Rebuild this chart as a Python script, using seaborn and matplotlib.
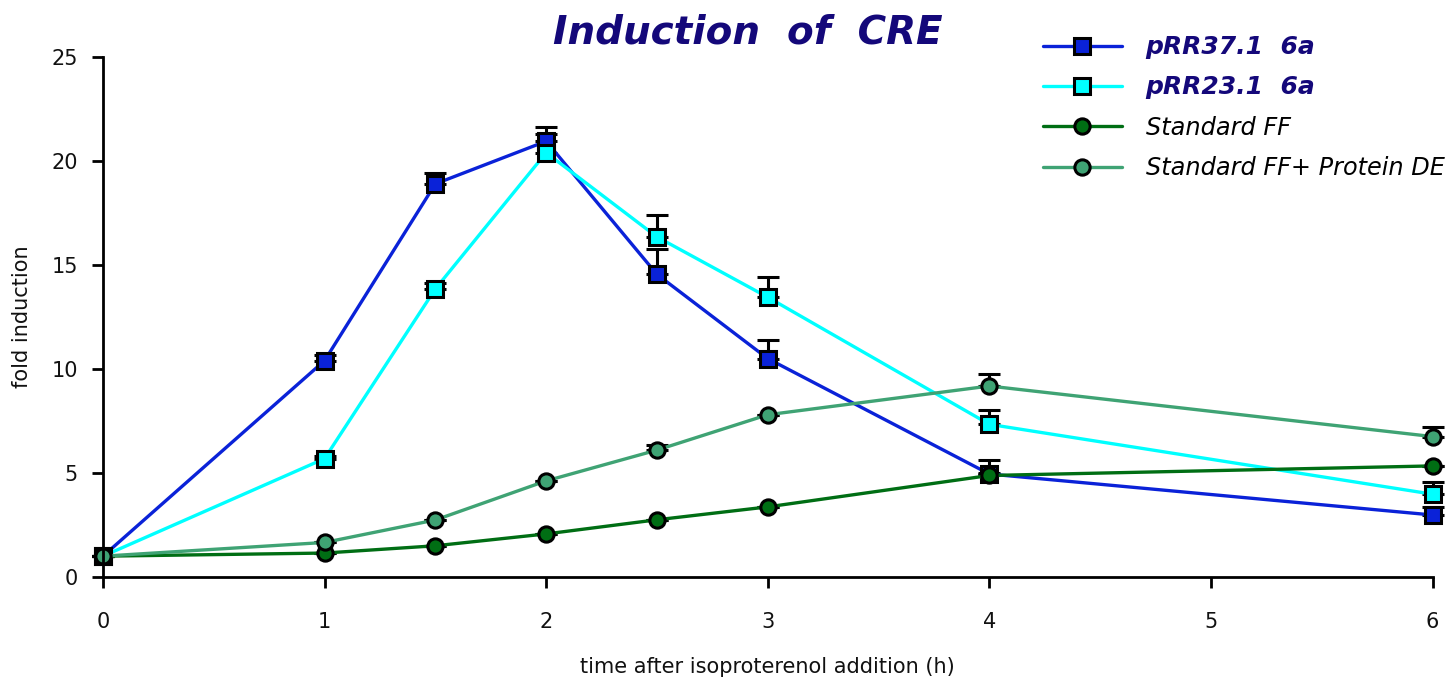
import pandas as pd
import numpy as np
import matplotlib
matplotlib.use("Agg")
import matplotlib.pyplot as plt
import seaborn as sns

# time points (h)
times = [0, 1, 1.5, 2, 2.5, 3, 4, 6]

series_names = ["pRR37.1  6a", "pRR23.1  6a", "Standard FF", "Standard FF+ Protein DE"]

# fold induction
prr37 = [1.0, 10.4, 18.9, 20.95, 14.55, 10.5, 4.95, 2.98]
prr23 = [1.0, 5.69, 13.85, 20.4, 16.35, 13.45, 7.34, 3.98]
std_ff = [1.0, 1.15, 1.5, 2.07, 2.75, 3.37, 4.88, 5.34]
std_ff_de = [1.0, 1.66, 2.74, 4.62, 6.1, 7.8, 9.18, 6.75]

# upper error bars only
prr37_err = [0, 0.25, 0.5, 0.7, 1.2, 0.87, 0.65, 0.4]
prr23_err = [0, 0.15, 0.3, 0.9, 1.05, 0.96, 0.69, 0.59]
std_ff_err = [0, 0, 0, 0, 0, 0, 0.1, 0]
std_ff_de_err = [0, 0, 0, 0, 0.25, 0, 0.58, 0.48]

colors = ["#0a22d8", "#00ffff", "#006e14", "#3fa374"]
marker_shapes = ["s", "s", "o", "o"]

all_vals = [prr37, prr23, std_ff, std_ff_de]
all_errs = [prr37_err, prr23_err, std_ff_err, std_ff_de_err]

rows = []
for name, vals, errs in zip(series_names, all_vals, all_errs):
    for t, v, e in zip(times, vals, errs):
        rows.append({"time": t, "fold": v, "err": e, "series": name})
df = pd.DataFrame(rows)

sns.set_theme(style="white")
plt.rcParams["font.family"] = ["DejaVu Sans"]

fig = plt.figure(figsize=(14.52, 6.85), dpi=100)
ax = fig.add_axes([0.0709, 0.1577, 0.9157, 0.7591])

sns.lineplot(data=df, x="time", y="fold", hue="series", style="series",
             hue_order=series_names, style_order=series_names,
             palette=dict(zip(series_names, colors)),
             markers=dict(zip(series_names, marker_shapes)), dashes=False,
             linewidth=2.4, markersize=11, markeredgecolor="black",
             markeredgewidth=2.2, legend=False, ax=ax, clip_on=False, zorder=2)
handles = list(ax.get_lines())

# error bars go under the markers
for name in series_names:
    sub = df[df["series"] == name]
    ax.errorbar(sub["time"], sub["fold"], yerr=[np.zeros(len(sub)), sub["err"]],
                fmt="none", ecolor="black", elinewidth=2.2, capsize=8, capthick=2.2,
                zorder=1.5, clip_on=False)

ax.set_xlim(0, 6)
ax.set_ylim(0, 25)
ax.set_xticks([0, 1, 2, 3, 4, 5, 6])
ax.set_yticks([0, 5, 10, 15, 20, 25])

for side in ["top", "right"]:
    ax.spines[side].set_visible(False)
for side in ["left", "bottom"]:
    ax.spines[side].set_color("black")
    ax.spines[side].set_linewidth(2)

ax.tick_params(axis="x", direction="out", length=8, width=2, pad=17,
               labelsize=15, colors="black", bottom=True)
ax.tick_params(axis="y", direction="out", length=8, width=2, pad=10,
               labelsize=15, colors="black", left=True)
for lbl in ax.get_xticklabels() + ax.get_yticklabels():
    lbl.set_color("#111111")

ax.set_xlabel("time after isoproterenol addition (h)", fontsize=15, labelpad=18, color="#111111")
ax.set_ylabel("fold induction", fontsize=15, labelpad=14, color="#111111")

fig.text(0.515, 0.952, "Induction  of  CRE", fontsize=28, fontweight="bold",
         fontstyle="italic", color="#14087a", ha="center", va="center")

leg = fig.legend(handles[:4], series_names, loc="upper left",
                 bbox_to_anchor=(0.712, 0.963), frameon=False,
                 fontsize=17.3, handlelength=3.25, handletextpad=1.0,
                 labelspacing=0.68, borderaxespad=0)
for i, txt in enumerate(leg.get_texts()):
    if i < 2:
        txt.set_fontweight("bold")
        txt.set_fontstyle("italic")
        txt.set_fontsize(18)
        txt.set_color("#14087a")
    else:
        txt.set_fontstyle("italic")
        txt.set_color("black")

fig.savefig("out.png", dpi=100)
